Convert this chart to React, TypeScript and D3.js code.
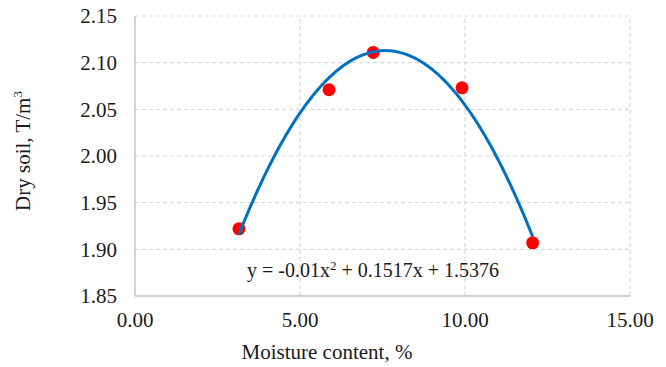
import React from "react";
import * as d3 from "d3";

// Measured moisture content (%) and dry soil density (T/m³)
const moisture = [3.15, 5.88, 7.22, 9.91, 12.05];
const density = [1.922, 2.071, 2.111, 2.073, 1.907];

// Quadratic trendline coefficients: y = a·x² + b·x + c
const trendA = -0.01;
const trendB = 0.1517;
const trendC = 1.5376;

const xTicks = [0, 5, 10, 15];
const yTicks = [1.85, 1.9, 1.95, 2.0, 2.05, 2.1, 2.15];

const W = 666;
const H = 367;
const M = { left: 135, right: 36, top: 16, bottom: 71 };
const FONT = "Liberation Serif";

export default function App() {
  const x = d3.scaleLinear().domain([0, 15]).range([M.left, W - M.right]);
  const y = d3.scaleLinear().domain([1.85, 2.15]).range([H - M.bottom, M.top]);

  const xs = d3.range(moisture[0], moisture[moisture.length - 1] + 0.0001, 0.05);
  const trend = d3
    .line<number>()
    .x((v) => x(v))
    .y((v) => y(trendA * v * v + trendB * v + trendC));

  const x0 = x(0), x1 = x(15), y0 = y(1.85), y1 = y(2.15);

  return (
    <svg width={W} height={H} style={{ position: "absolute", left: 0, top: 0, background: "#fff", fontFamily: FONT }}>
      {/* dashed grid */}
      {yTicks.filter((t) => t > 1.85).map((t) => (
        <line key={"gy" + t} x1={x0} x2={x1} y1={y(t)} y2={y(t)} stroke="#d9d9d9" strokeWidth={1.2} strokeDasharray="4,3" />
      ))}
      {xTicks.filter((t) => t > 0).map((t) => (
        <line key={"gx" + t} x1={x(t)} x2={x(t)} y1={y0} y2={y1} stroke="#d9d9d9" strokeWidth={1.2} strokeDasharray="4,3" />
      ))}
      {/* axes */}
      <line x1={x0} x2={x0} y1={y0} y2={y1} stroke="#bfbfbf" strokeWidth={1.3} />
      <line x1={x0} x2={x1} y1={y0} y2={y0} stroke="#bfbfbf" strokeWidth={1.3} />

      {yTicks.map((t) => (
        <text key={"ty" + t} x={117} y={y(t)} dy="0.35em" textAnchor="end" fontSize={21} fill="#1a1a1a">
          {t.toFixed(2)}
        </text>
      ))}
      {xTicks.map((t) => (
        <text key={"tx" + t} x={x(t)} y={327} textAnchor="middle" fontSize={21} fill="#1a1a1a">
          {t.toFixed(2)}
        </text>
      ))}

      <text x={327} y={359} textAnchor="middle" fontSize={21} fill="#1a1a1a">
        Moisture content, %
      </text>
      <text transform="translate(30,151) rotate(-90)" textAnchor="middle" fontSize={21} fill="#1a1a1a">
        Dry soil, T/m<tspan dy="-8" fontSize={13}>3</tspan>
      </text>

      {moisture.map((m, i) => (
        <circle key={"p" + i} cx={x(m)} cy={y(density[i])} r={6.5} fill="#ff0000" />
      ))}
      <path d={trend(xs) ?? ""} fill="none" stroke="#0070c0" strokeWidth={3} />

      <text x={247} y={277} fontSize={20} fill="#1a1a1a">
        y = -0.01x<tspan dy="-7" fontSize={13}>2</tspan>
        <tspan dy="7"> + 0.1517x + 1.5376</tspan>
      </text>
    </svg>
  );
}
